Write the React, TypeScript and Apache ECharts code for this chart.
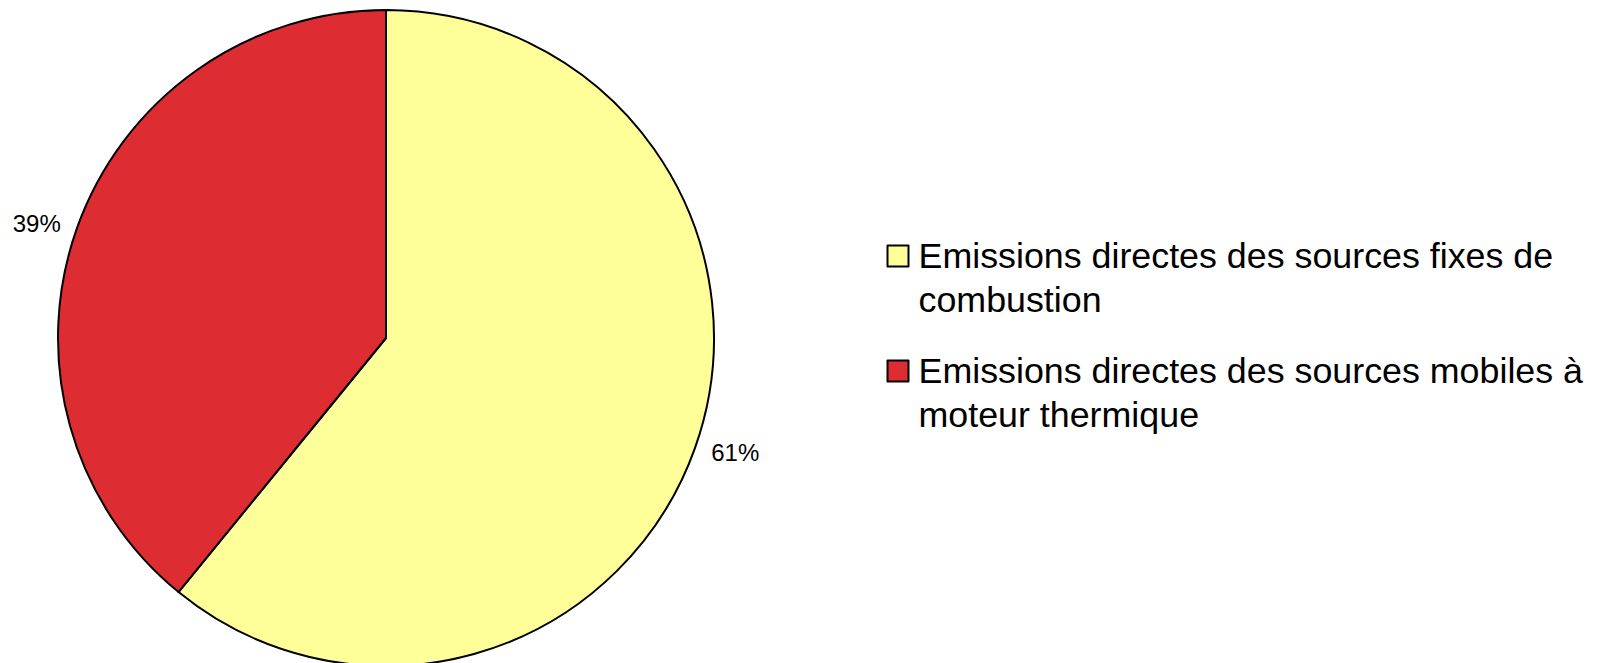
import React, { useEffect, useRef } from "react";
import * as echarts from "echarts";

const categories: string[] = [
  "Emissions directes des sources fixes de combustion",
  "Emissions directes des sources mobiles à moteur thermique",
];
const legendLabels: string[] = [
  "Emissions directes des sources fixes de\ncombustion",
  "Emissions directes des sources mobiles à\nmoteur thermique",
];
const shares: number[] = [60.9, 39.1];
const colors: string[] = ["#FFFF99", "#DD2D33"];

export default function App() {
  const ref = useRef<HTMLDivElement>(null);

  useEffect(() => {
    if (!ref.current) return;
    const chart = echarts.init(ref.current, undefined, { renderer: "svg" });
    const data = categories.map((name, i) => ({
      name,
      value: shares[i],
      itemStyle: { color: colors[i] },
    }));
    chart.setOption({
      animation: false,
      backgroundColor: "#ffffff",
      textStyle: { fontFamily: "Liberation Sans" },
      legend: {
        orient: "vertical",
        left: 886.5,
        top: 190,
        padding: 0,
        itemGap: -17,
        itemWidth: 21,
        itemHeight: 21,
        icon: "rect",
        selectedMode: false,
        data: categories,
        formatter: (name: string) => "\n" + legendLabels[categories.indexOf(name)],
        itemStyle: { borderColor: "#000000", borderWidth: 2 },
        textStyle: {
          fontFamily: "Liberation Sans",
          fontSize: 35.8,
          color: "#000000",
          lineHeight: 44,
          padding: [0, 0, 0, 5],
        },
      },
      series: [
        {
          type: "pie",
          center: [386, 338],
          radius: 328,
          startAngle: 90,
          clockwise: true,
          percentPrecision: 0,
          avoidLabelOverlap: false,
          silent: true,
          itemStyle: { borderColor: "#000000", borderWidth: 2 },
          label: {
            show: true,
            position: "outside",
            formatter: "{d}%",
            fontFamily: "Liberation Sans",
            fontSize: 24,
            color: "#000000",
            distanceToLabelLine: 5,
          },
          labelLine: { show: false, length: 12, length2: 0 },
          emphasis: { disabled: true },
          data,
        },
      ],
    });
    return () => chart.dispose();
  }, []);

  return (
    <div
      ref={ref}
      style={{ position: "fixed", left: 0, top: 0, width: 1607, height: 663 }}
    />
  );
}
